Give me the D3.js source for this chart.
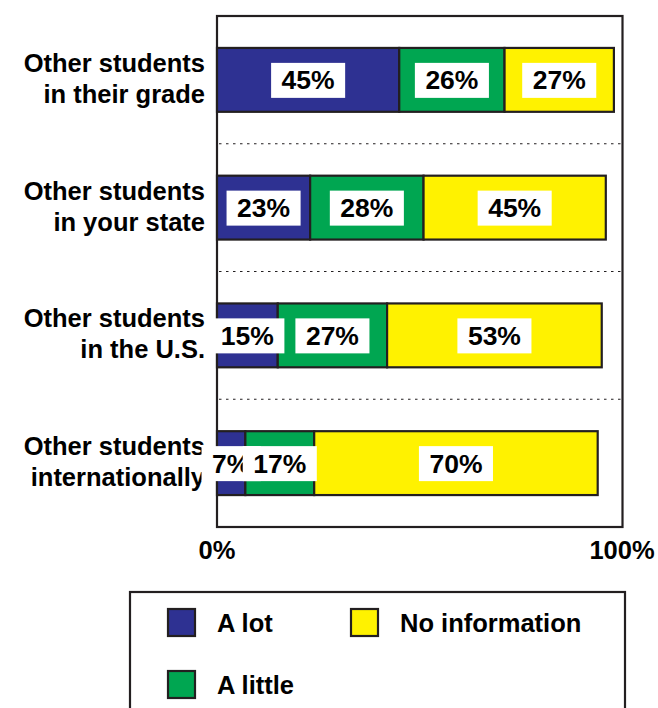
<!DOCTYPE html>
<html>
<head>
<meta charset="utf-8">
<script src="https://cdn.jsdelivr.net/npm/d3@7"></script>
<style>
  html, body { margin: 0; padding: 0; background: #fff; }
  svg { display: block; font-family: "Liberation Sans", Arial, sans-serif; font-weight: bold; }
</style>
</head>
<body>
<svg id="chart" width="658" height="708"></svg>
<script>
const categories = [
  ["Other students", "in their grade"],
  ["Other students", "in your state"],
  ["Other students", "in the U.S."],
  ["Other students", "internationally"]
];
const seriesNames = ["A lot", "A little", "No information"];
const aLot = [45, 23, 15, 7];
const aLittle = [26, 28, 27, 17];
const noInfo = [27, 45, 53, 70];
const tickValues = [0, 100];
const tickLabels = ["0%", "100%"];
const colors = ["#2e3192", "#00a651", "#fff200"];

(function () {
const ink = "#231f20";
const svg = d3.select("#chart");
const pL = 217, pR = 622, pT = 16, pB = 527;

const keys = categories.map((c, i) => i);
const x = d3.scaleLinear().domain([0, 100]).range([pL, pR]);
const y = d3.scaleBand().domain(keys).range([pT, pB]).paddingInner(0.5).paddingOuter(0.25);

const rows = keys.map(i => ({ i, "A lot": aLot[i], "A little": aLittle[i], "No information": noInfo[i] }));
const stacked = d3.stack().keys(seriesNames)(rows);

// frame
svg.append("rect").attr("x", pL).attr("y", pT).attr("width", pR - pL + 0.5).attr("height", pB - pT)
  .attr("fill", "none").attr("stroke", ink).attr("stroke-width", 2.2);

// dotted separators
const step = y.step();
for (let k = 1; k < keys.length; k++) {
  const yy = pT + step * k;
  svg.append("line").attr("x1", pL + 2).attr("x2", pR - 1).attr("y1", yy).attr("y2", yy)
    .attr("stroke", ink).attr("stroke-width", 1.1).attr("stroke-dasharray", "2.5,4.5");
}

// category labels
const catG = svg.append("g");
keys.forEach(i => {
  const cy = y(i) + y.bandwidth() / 2;
  const t = catG.append("text").attr("text-anchor", "end").attr("font-size", 25.5).attr("fill", "#000");
  t.append("tspan").attr("x", 205).attr("y", cy - 8).text(categories[i][0]);
  t.append("tspan").attr("x", 205).attr("y", cy + 23).text(categories[i][1]);
});

// bars
stacked.forEach((s, si) => {
  svg.append("g").selectAll("rect").data(s).join("rect")
    .attr("x", d => x(d[0]))
    .attr("y", d => y(d.data.i))
    .attr("width", d => x(d[1]) - x(d[0]))
    .attr("height", y.bandwidth())
    .attr("fill", colors[si])
    .attr("stroke", ink).attr("stroke-width", 2.2);
});

// value labels (per row, in series order so later boxes overlap earlier ones)
const labG = svg.append("g");
keys.forEach(i => {
  stacked.forEach((s, si) => {
    const d = s[i];
    const v = d[1] - d[0];
    const cx = (x(d[0]) + x(d[1])) / 2;
    const cy = y(i) + y.bandwidth() / 2;
    const g = labG.append("g");
    const rect = g.append("rect").attr("fill", "#fff");
    const txt = g.append("text").attr("x", cx).attr("y", cy + 9.5).attr("text-anchor", "middle")
      .attr("font-size", 26.5).attr("fill", "#000").text(v + "%");
    const w = txt.node().getComputedTextLength() + 21;
    rect.attr("x", cx - w / 2).attr("y", cy - 17).attr("width", w).attr("height", 35);
  });
});

// x tick labels
svg.append("g").selectAll("text").data(tickValues).join("text")
  .attr("x", d => x(d)).attr("y", 559).attr("text-anchor", "middle")
  .attr("font-size", 25.5).attr("fill", "#000")
  .text((d, k) => tickLabels[k]);

// legend
svg.append("rect").attr("x", 130).attr("y", 592).attr("width", 495).attr("height", 140)
  .attr("fill", "#fff").attr("stroke", ink).attr("stroke-width", 2.2);
const legendPos = [[168, 609], [168, 671], [351, 609]];
seriesNames.forEach((n, k) => {
  const [lx, ly] = legendPos[k];
  svg.append("rect").attr("x", lx).attr("y", ly).attr("width", 27).attr("height", 27)
    .attr("fill", colors[k]).attr("stroke", ink).attr("stroke-width", 2.2);
  svg.append("text").attr("x", lx + 49).attr("y", ly + 23).attr("font-size", 25.5).attr("fill", "#000").text(n);
});
})();
</script>
</body>
</html>
